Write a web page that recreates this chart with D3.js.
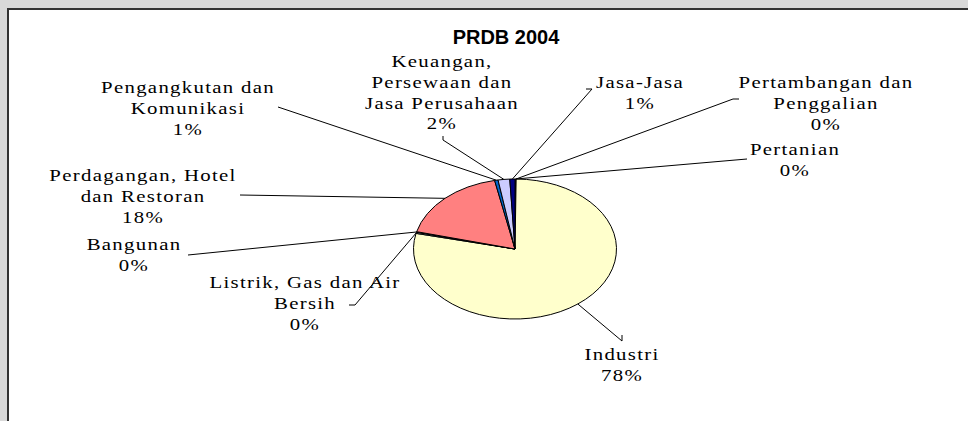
<html lang="en">
  <head>
  <meta charset="utf-8">
  <script type="text/javascript" src="https://d3js.org/d3.v7.min.js"></script>
  <style type="text/css">
    body {
      margin: 0;
      background: #d9d9d9;
    }
  </style>
  </head>

  <body>
    <div id="chart"></div>
    <script type="text/javascript">

    // data (share of PDRB 2004, percent)
    var sectors = ["Pertanian", "Pertambangan dan Penggalian", "Industri", "Listrik, Gas dan Air Bersih",
                   "Bangunan", "Perdagangan, Hotel dan Restoran", "Pengangkutan dan Komunikasi",
                   "Keuangan, Persewaan dan Jasa Perusahaan", "Jasa-Jasa"];
    var shares = [0.15, 0.03, 78.4, 0.25, 0.15, 17.8, 0.55, 1.85, 0.82];
    var colors = ["#9999ff", "#993366", "#ffffcc", "#ccffff", "#660066", "#ff8080", "#0066cc", "#ccccff", "#000080"];
    var labelLines = [
      ["Pertanian"],
      ["Pertambangan dan", "Penggalian"],
      ["Industri"],
      ["Listrik, Gas dan Air", "Bersih"],
      ["Bangunan"],
      ["Perdagangan, Hotel", "dan Restoran"],
      ["Pengangkutan dan", "Komunikasi"],
      ["Keuangan,", "Persewaan dan", "Jasa Perusahaan"],
      ["Jasa-Jasa"]
    ];

    // label placement: text centre x, first baseline y, leader end near the label and its short tick
    var labelPos = [
      {x: 795, y: 155, lx: 747, ly: 159, tx: 0, ty: 0},
      {x: 826, y: 88,  lx: 733, ly: 99,  tx: 6, ty: 0},
      {x: 622, y: 360, lx: 622, ly: 341, tx: 0, ty: -6},
      {x: 305, y: 288, lx: 355, ly: 305, tx: -6, ty: 0},
      {x: 134, y: 250, lx: 188, ly: 255, tx: 0, ty: 0},
      {x: 143, y: 181, lx: 240, ly: 195, tx: 0, ty: 0},
      {x: 188, y: 93,  lx: 278, ly: 107, tx: 0, ty: 0},
      {x: 442, y: 67,  lx: 443, ly: 140, tx: 0, ty: -4},
      {x: 640, y: 88,  lx: 592, ly: 89,  tx: -6, ty: 0}
    ];

    var width = 968, height = 421;
    var cx = 515, cy = 249, rx = 101.5, ry = 70;
    var lineGap = 20.8, stretch = 1.3;

    var svg = d3.select("#chart").append("svg")
        .attr("width", width)
        .attr("height", height);

    // white chart area with dark frame (right / bottom edges are cut off)
    svg.append("rect")
        .attr("x", 8)
        .attr("y", 9)
        .attr("width", width + 10)
        .attr("height", height + 10)
        .style("fill", "#fff")
        .style("stroke", "#333")
        .style("stroke-width", 2);

    svg.append("text")
        .attr("x", 506)
        .attr("y", 44)
        .style("font-family", "'Liberation Sans', Arial, sans-serif")
        .style("font-size", "20px")
        .style("font-weight", "bold")
        .style("text-anchor", "middle")
        .text("PRDB 2004");

    var data = sectors.map(function(s, i) {
      return {name: s, value: shares[i], color: colors[i], lines: labelLines[i], pos: labelPos[i]};
    });

    var pie = d3.pie()
        .sort(null)
        .value(function(d) { return d.value; });

    var arcs = pie(data);

    var arc = d3.arc()
        .innerRadius(0)
        .outerRadius(ry);

    // pie is drawn as a circle and stretched sideways into the ellipse
    svg.append("g")
        .attr("transform", "translate(" + cx + "," + cy + ") scale(" + (rx / ry) + ",1)")
      .selectAll("path")
        .data(arcs)
        .enter().append("path")
        .attr("d", arc)
        .style("fill", function(d) { return d.data.color; })
        .style("stroke", "#000")
        .style("stroke-width", 1)
        .attr("vector-effect", "non-scaling-stroke");

    // leader lines from the slice edge to the label
    svg.append("g")
      .selectAll("path")
        .data(arcs)
        .enter().append("path")
        .style("fill", "none")
        .style("stroke", "#000")
        .style("stroke-width", 1)
        .attr("d", function(d) {
          var a = (d.startAngle + d.endAngle) / 2;
          var px = cx + rx * Math.sin(a),
              py = cy - ry * Math.cos(a);
          var p = d.data.pos;
          var pts = [[px, py], [p.lx, p.ly]];
          if (p.tx || p.ty) pts.push([p.lx + p.tx, p.ly + p.ty]);
          return d3.line()(pts);
        });

    var labels = svg.append("g")
      .selectAll("g")
        .data(arcs)
        .enter().append("g")
        .attr("transform", function(d) {
          return "translate(" + d.data.pos.x + "," + d.data.pos.y + ") scale(" + stretch + ",1)";
        });

    labels.append("text")
        .style("font-family", "'Liberation Serif', 'Times New Roman', serif")
        .style("font-size", "16px")
        .style("letter-spacing", "1px")
        .style("text-anchor", "middle")
        .style("fill", "#000")
        .each(function(d) {
          var t = d3.select(this);
          var rows = d.data.lines.concat([Math.round(d.data.value) + "%"]);
          rows.forEach(function(r, i) {
            t.append("tspan")
              .attr("x", 0)
              .attr("y", i * lineGap)
              .text(r);
          });
        });

    </script>
  </body>
</html>
